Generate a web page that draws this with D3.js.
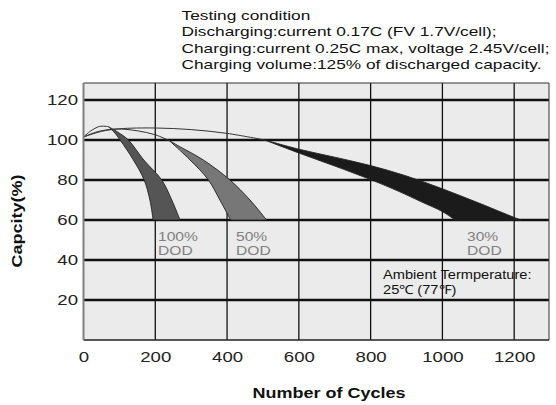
<!DOCTYPE html>
<html>
<head>
<meta charset="utf-8">
<script src="https://cdn.jsdelivr.net/npm/d3@7"></script>
<style>
  body { margin: 0; background: #fff; }
  svg text { font-family: "Liberation Sans", Arial, sans-serif; }
</style>
</head>
<body>
<svg id="chart" width="556" height="405"></svg>
<script>
// tick values
var xTicks = [0, 200, 400, 600, 800, 1000, 1200];
var yTicks = [20, 40, 60, 80, 100, 120];

// thin lines from the start up to each band's apex
var rise100 = [[0, 101.5], [20, 104.5], [45, 106.8], [69, 106.7]];
var rise50 = [[0, 101.5], [40, 104.2], [92, 105.5], [150, 104.6], [200, 102.6], [239, 99.7]];
var rise30 = [[0, 101.5], [50, 104.3], [100, 105.6], [200, 106], [300, 105.2], [400, 103.3], [505, 100]];

// bands: left/lower edge and right/upper edge, each from apex down to 60%
var band100Left = [[69, 106.7], [85, 104], [102, 100], [139, 90], [169, 80], [185, 70], [194, 60]];
var band100Right = [[69, 106.7], [95, 104], [125, 100], [168, 90], [218, 80], [246, 70], [269, 60]];
var band50Left = [[239, 99.7], [297, 90], [348, 80], [380, 70], [410, 60]];
var band50Right = [[239, 99.7], [265, 97], [334, 90], [408, 80], [464, 70], [510, 60]];
var band30Lower = [[505, 100], [600, 93.5], [700, 87], [800, 80.2], [880, 74.2], [940, 69.2], [1000, 64.2], [1035, 60]];
var band30Upper = [[505, 100], [600, 95.4], [700, 91.4], [800, 87.2], [900, 82], [1000, 75.6], [1100, 68.6], [1200, 61.3], [1220, 60]];

var bands = [
	{name: "100", left: band100Left, right: band100Right, fill: "#555555"},
	{name: "50", left: band50Left, right: band50Right, fill: "#777777"},
	{name: "30", left: band30Lower, right: band30Upper, fill: "#1b1b1b"}
];

var dodLabels = [
	{text: "100%", x: 158},
	{text: "50%", x: 236},
	{text: "30%", x: 467}
];

var condition = [
	"Testing condition",
	"Discharging:current 0.17C (FV 1.7V/cell);",
	"Charging:current 0.25C max, voltage 2.45V/cell;",
	"Charging volume:125% of discharged capacity."
];

// the source lettering is drawn wide, so stretch text horizontally
function widen(sel, k) {
	sel.each(function() {
		var n = this.getComputedTextLength();
		d3.select(this).attr("textLength", n * k).attr("lengthAdjust", "spacingAndGlyphs");
	});
}

var svg = d3.select("#chart");
var margin = {top: 83, right: 7, bottom: 65, left: 83.5},
	width = svg.attr("width") - margin.left - margin.right,
	height = svg.attr("height") - margin.top - margin.bottom,
	g = svg.append("g").attr("transform", "translate(" + margin.left + "," + margin.top + ")");

var x = d3.scaleLinear().domain([0, 1297]).range([0, width]);
var y = d3.scaleLinear().domain([0, 128.5]).range([height, 0]);

g.append("rect")
	.attr("width", width)
	.attr("height", height)
	.attr("fill", "#ebebeb");

// grid
g.selectAll(".hgrid")
	.data(yTicks)
	.enter().append("line")
	.attr("x1", 0).attr("x2", width)
	.attr("y1", function(d) { return y(d); })
	.attr("y2", function(d) { return y(d); })
	.attr("stroke", "#111")
	.attr("stroke-width", 2.4);

g.selectAll(".vgrid")
	.data(xTicks.slice(1))
	.enter().append("line")
	.attr("x1", function(d) { return x(d); })
	.attr("x2", function(d) { return x(d); })
	.attr("y1", 0).attr("y2", height)
	.attr("stroke", "#111")
	.attr("stroke-width", 1.3);

var line = d3.line()
	.x(function(d) { return x(d[0]); })
	.y(function(d) { return y(d[1]); })
	.curve(d3.curveCatmullRom.alpha(0.5));

g.selectAll(".band")
	.data(bands)
	.enter().append("path")
	.attr("class", "band")
	.attr("d", function(b) {
		var back = b.right.slice().reverse();
		return line(b.left) + "L" + line(back).slice(1) + "Z";
	})
	.attr("fill", function(b) { return b.fill; })
	.attr("stroke", "#222")
	.attr("stroke-width", 0.9);

g.selectAll(".rise")
	.data([rise100, rise50, rise30])
	.enter().append("path")
	.attr("d", function(d) { return line(d); })
	.attr("fill", "none")
	.attr("stroke", "#333")
	.attr("stroke-width", 1);

// frame
g.append("line").attr("x1", 0).attr("x2", width).attr("y1", 0).attr("y2", 0)
	.attr("stroke", "#333").attr("stroke-width", 1);
g.append("line").attr("x1", width).attr("x2", width).attr("y1", 0).attr("y2", height)
	.attr("stroke", "#333").attr("stroke-width", 1);
g.append("line").attr("x1", 0).attr("x2", width).attr("y1", height).attr("y2", height)
	.attr("stroke", "#222").attr("stroke-width", 1.5);
g.append("line").attr("x1", 0).attr("x2", 0).attr("y1", 0).attr("y2", height)
	.attr("stroke", "#808080").attr("stroke-width", 2);

// axes (labels only, the grid draws the lines)
var xAxis = g.append("g")
	.attr("transform", "translate(0," + height + ")")
	.call(d3.axisBottom(x).tickValues(xTicks).tickFormat(d3.format("d")).tickSize(0).tickPadding(11));
var yAxis = g.append("g")
	.call(d3.axisLeft(y).tickValues(yTicks).tickSize(0).tickPadding(5.5));
[xAxis, yAxis].forEach(function(a) {
	a.select(".domain").remove();
	a.selectAll("text")
		.attr("fill", "#222")
		.style("font-size", "15.5px")
		.style("font-family", "'Liberation Sans', Arial, sans-serif")
		.call(widen, 1.2);
});

// DOD labels
dodLabels.forEach(function(l) {
	var t = svg.append("text")
		.attr("x", l.x)
		.attr("y", 241)
		.attr("fill", "#808080")
		.style("font-size", "12px");
	t.append("tspan").attr("x", l.x).text(l.text);
	t.append("tspan").attr("x", l.x).attr("dy", 14).text("DOD");
	t.selectAll("tspan").call(widen, 1.3);
});

var amb = svg.append("text")
	.attr("x", 383)
	.attr("y", 279)
	.attr("fill", "#111")
	.style("font-size", "12.5px");
amb.append("tspan").attr("x", 383).text("Ambient Termperature:");
amb.append("tspan").attr("x", 383).attr("dy", 15).text("25\u2103 (77\u2109)");
amb.selectAll("tspan").call(widen, 1.17);

var cond = svg.append("g").selectAll("text")
	.data(condition)
	.enter().append("text")
	.attr("x", 181.5)
	.attr("y", function(d, i) { return 20 + i * 16.3; })
	.attr("fill", "#111")
	.style("font-size", "12.7px")
	.text(function(d) { return d; });
var condK = 368 / cond.nodes()[2].getComputedTextLength();
cond.call(widen, condK);

svg.append("text")
	.attr("x", 329)
	.attr("y", 398)
	.attr("text-anchor", "middle")
	.attr("fill", "#111")
	.style("font-size", "15.5px")
	.style("font-weight", "bold")
	.text("Number of Cycles")
	.call(widen, 1.16);

svg.append("text")
	.attr("transform", "translate(22,221) rotate(-90)")
	.attr("text-anchor", "middle")
	.attr("fill", "#111")
	.style("font-size", "15px")
	.style("font-weight", "bold")
	.text("Capcity(%)")
	.call(widen, 1.2);
</script>
</body>
</html>
